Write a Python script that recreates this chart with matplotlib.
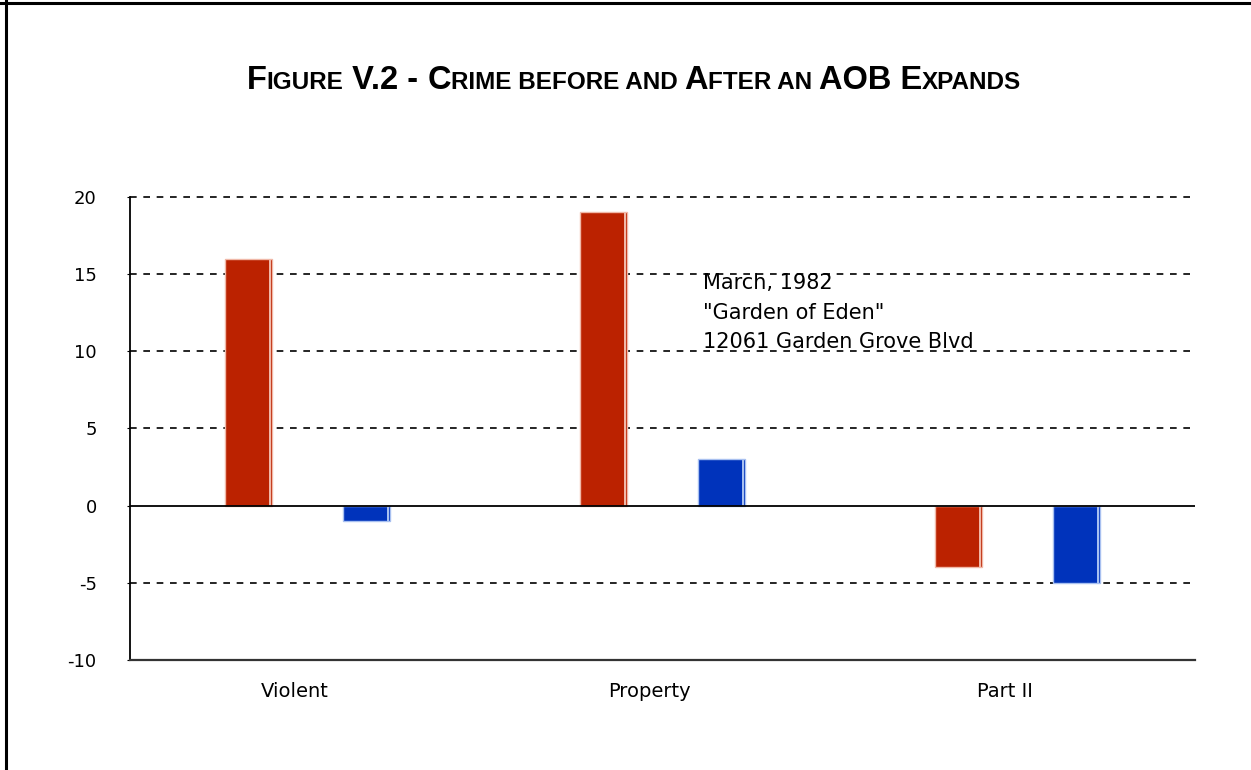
import numpy as np
import matplotlib
matplotlib.use('Agg')
import matplotlib.pyplot as plt
from matplotlib.lines import Line2D
from matplotlib.transforms import ScaledTranslation

plt.rcParams['axes.unicode_minus'] = False

# =====================================================================
# DATA
# =====================================================================
categories = ["Violent", "Property", "Part II"]
before_vals = [16, 19, -4]     # red bars
after_vals = [-1, 3, -5]       # blue bars
y_ticks = [-10, -5, 0, 5, 10, 15, 20]
note_lines = ["March, 1982", "\"Garden of Eden\"", "12061 Garden Grove Blvd"]

# title pieces: (text, is_big) -> fake small caps
title_parts = [("F", True), ("IGURE", False), (" V.2 - ", True), ("C", True),
               ("RIME BEFORE AND ", False), ("A", True), ("FTER AN ", False),
               ("AOB E", True), ("XPANDS", False)]

RED = '#BB2200'
BLUE = '#0033BB'

# =====================================================================
# FIGURE
# =====================================================================
fig = plt.figure(figsize=(12.51, 7.70), dpi=100)
ax = fig.add_axes([130 / 1251, 1 - 660 / 770, (1195 - 130) / 1251, (660 - 197) / 770])

x = np.arange(len(categories))
w = 0.133
off = 0.166

def draw_bars(xs, vals, face, hi):
    ax.bar(xs, vals, width=w, color=face, edgecolor=hi, linewidth=1.0, zorder=3)
    # light highlight stripe on the right edge
    ax.bar(xs + w / 2 - 0.006, vals, width=0.004, color=hi, linewidth=0, zorder=4)

draw_bars(x - off, before_vals, RED, '#F0B8A8')
draw_bars(x + off, after_vals, BLUE, '#A8C0F0')

ax.set_xlim(-0.5, len(categories) - 0.5)
ax.set_ylim(min(y_ticks), max(y_ticks))
ax.set_yticks(y_ticks)
ax.set_xticks(x)
ax.set_xticklabels(categories)

for t in y_ticks:
    if t == 0:
        ax.axhline(t, color='black', lw=1.3, zorder=5)
    elif t != min(y_ticks):
        ax.axhline(t, xmax=0.997, color='black', lw=1.2, linestyle=(0, (4, 4)),
                   zorder=1, clip_on=False)

for s in ['top', 'right']:
    ax.spines[s].set_visible(False)
ax.spines['left'].set_linewidth(1.3)
ax.spines['bottom'].set_linewidth(1.6)
ax.spines['bottom'].set_color('#333333')

ax.tick_params(axis='y', length=2, pad=22, labelsize=13)
ax.tick_params(axis='x', length=0, pad=16, labelsize=14)
# category labels sit a little left of the group centre in the original
shift = ScaledTranslation(-0.13, 0, fig.dpi_scale_trans)
for lbl in ax.get_xticklabels():
    lbl.set_transform(lbl.get_transform() + shift)

ax.text(1.115, 15.1, "\n".join(note_lines), fontsize=15, va='top', ha='left',
        linespacing=1.62, zorder=6)

# =====================================================================
# TITLE (fake small caps, pieces laid side by side)
# =====================================================================
fig.canvas.draw()
renderer = fig.canvas.get_renderer()
big_fs, small_fs = 23.5, 17.5
pieces = []
total = 0
for txt, big in title_parts:
    t = fig.text(0, 0, txt, fontsize=big_fs if big else small_fs,
                 fontweight='bold', family='Liberation Sans')
    bb = t.get_window_extent(renderer)
    pieces.append((t, bb.width))
    total += bb.width
cur = 634 - total / 2
for t, wd in pieces:
    t.set_position((cur / 1251, 1 - 89 / 770))
    cur += wd

# frame lines (top and left only)
fig.add_artist(Line2D([0, 1], [1 - 3 / 770, 1 - 3 / 770], color='black', lw=2.2,
                      transform=fig.transFigure))
fig.add_artist(Line2D([6 / 1251, 6 / 1251], [0, 1], color='black', lw=2.2,
                      transform=fig.transFigure))

fig.savefig("out.png", dpi=100)
